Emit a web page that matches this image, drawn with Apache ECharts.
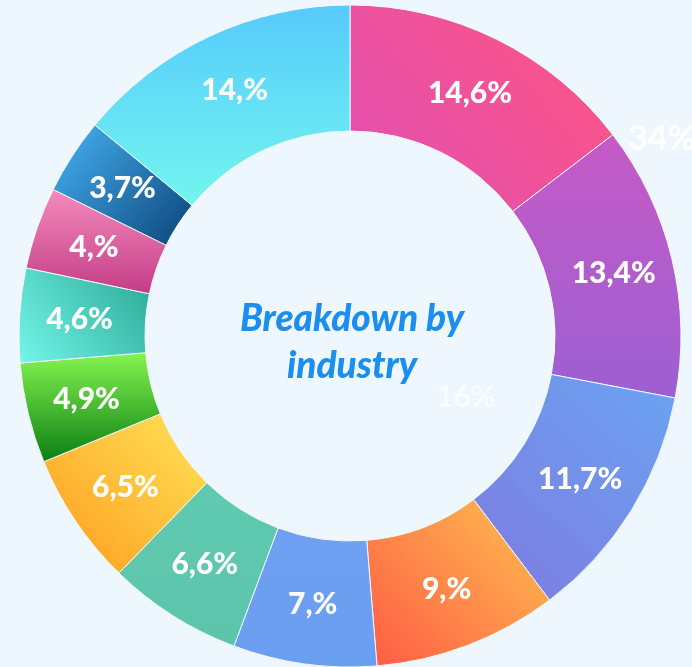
<!DOCTYPE html>
<html><head><meta charset="utf-8">
<script src="https://cdn.jsdelivr.net/npm/echarts@6/dist/echarts.min.js"></script>
<style>html,body{margin:0;padding:0;background:#edf7fd;}#c{width:692px;height:667px;}</style>
</head><body><div id="c"></div>
<script>
const values = [14.6, 13.4, 11.7, 9, 7, 6.6, 6.5, 4.9, 4.6, 4, 3.7, 14];
const labels = ['14,6%', '13,4%', '11,7%', '9,%', '7,%', '6,6%', '6,5%', '4,9%', '4,6%', '4,%', '3,7%', '14,%'];
const gradients = [
  [[1,0,'#ff5580'],[0,1,'#e04fb4']],
  [[0,0,'#c65ac6'],[0,1,'#9c5fd2']],
  [[1,0,'#6aa4f2'],[0,1,'#7f7ae0']],
  [[1,0,'#ffc250'],[0,1,'#ff5a45']],
  [[0,0,'#6fa0f2'],[0,1,'#6a9ef0']],
  [[0,0,'#60cab0'],[0,1,'#5cc4aa']],
  [[1,0,'#ffe458'],[0,1,'#ff9a1c']],
  [[0,0,'#86f550'],[0,1,'#0a7e12']],
  [[0,1,'#74f6ea'],[1,0,'#2aa894']],
  [[0,0,'#f48cbc'],[0,1,'#c43c86']],
  [[0,0,'#48b4f6'],[1,1,'#0a4478']],
  [[0,0,'#56cafc'],[0,1,'#72f6ee']]
];
function grad(g){
  const [a,b] = g;
  return new echarts.graphic.LinearGradient(a[0],a[1],b[0],b[1],[{offset:0,color:a[2]},{offset:1,color:b[2]}]);
}
const chart = echarts.init(document.getElementById('c'));
chart.setOption({
  backgroundColor:'#edf7fd',
  animation:false,
  series:[{
    type:'pie',
    center:[350,336],
    radius:[205,331],
    startAngle:90,
    clockwise:true,
    avoidLabelOverlap:false,
    itemStyle:{borderColor:'#eef8fd',borderWidth:1},
    label:{position:'inside',color:'#ffffff',fontFamily:'Lato',fontWeight:900,fontSize:30,
      formatter:p=>labels[p.dataIndex]},
    labelLine:{show:false},
    data: values.map((v,i)=>({value:v,name:labels[i],itemStyle:{color:grad(gradients[i])}}))
  }],
  graphic:[
    {type:'text',x:352,y:296,style:{text:'Breakdown by\nindustry',fill:'#1b8eee',fontFamily:'Lato',fontStyle:'italic',fontWeight:900,fontSize:37,lineHeight:47,align:'center',verticalAlign:'top'}},
    {type:'text',x:628,y:122,style:{text:'34%',fill:'#ffffff',fontFamily:'Lato',fontWeight:900,fontSize:34,opacity:0.9}},
    {type:'text',x:436,y:382,style:{text:'16%',fill:'#ffffff',fontFamily:'Lato',fontWeight:900,fontSize:30,opacity:0.7}}
  ]
});
</script></body></html>
